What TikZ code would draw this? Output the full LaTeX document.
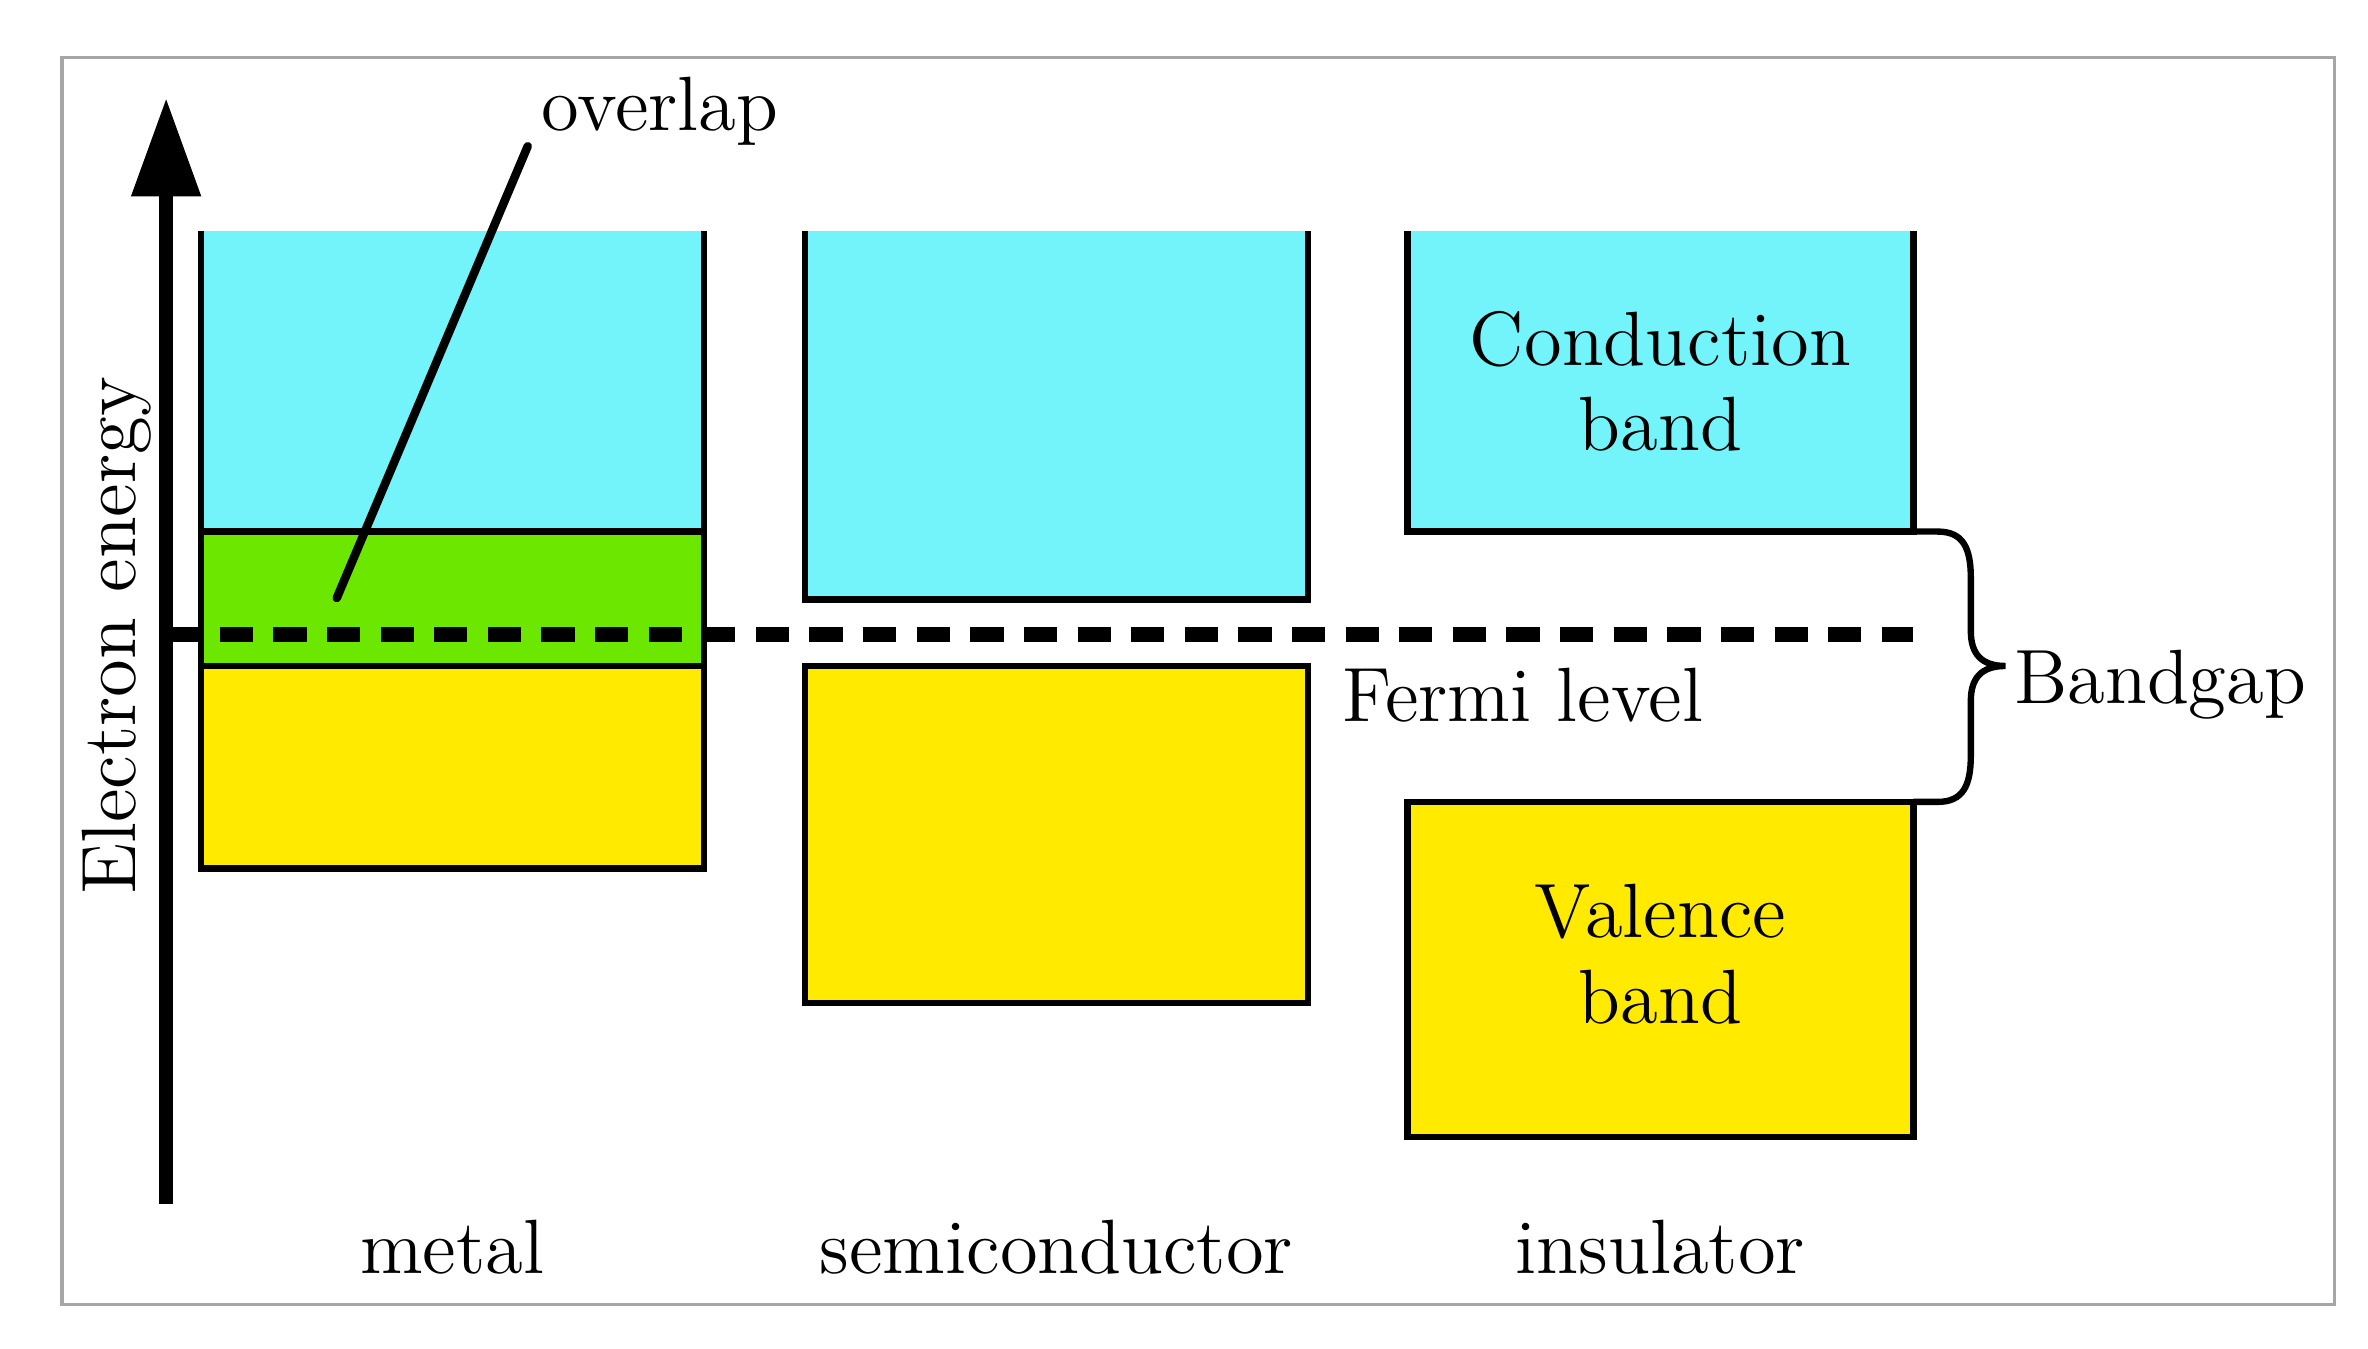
\documentclass[tikz,border=0pt]{standalone}
\usepackage{fontspec}
\usepackage{tikz}
\usetikzlibrary{arrows.meta, positioning, calc}

\definecolor{condcyan}{RGB}{115,244,250}
\definecolor{overgreen}{RGB}{108,232,0}
\definecolor{valyellow}{RGB}{255,234,0}

\begin{document}
\begin{tikzpicture}[
  x=1cm, y=1cm,
  font=\fontsize{14.5}{16.2}\selectfont,
  band/.style  = {inner sep=0pt, outer sep=0pt, minimum width=3.33cm},
  cb/.style    = {band, fill=condcyan},
  ov/.style    = {band, fill=overgreen},
  vb/.style    = {band, fill=valyellow},
  edge/.style  = {line width=1.2pt, black},
  axis/.style  = {-{Triangle[width=4.4mm, length=6.5mm]}, line width=2.5pt},
  fermi/.style = {line width=2.75pt, dash pattern=on 2.2mm off 1.35mm},
  lbl/.style   = {inner sep=0pt},
]

\useasboundingbox (0,0) rectangle (15.68,8.93);
\draw[gray!70, line width=0.6pt] (0.41,8.55) rectangle (15.46,0.29);

%% ── metal ──────────────────────────────────────────────────────────────────
\node[cb, minimum height=1.99cm] (mcb) at (2.995,6.405) {};
\node[ov, minimum height=0.89cm] (mov) at (2.995,4.965) {};
\node[vb, minimum height=1.34cm] (mvb) at (2.995,3.85) {};
\draw[edge] (mcb.north west) -- (mvb.south west) -- (mvb.south east)
  -- (mcb.north east);
\draw[edge] (mcb.south west) -- (mcb.south east);
\draw[edge] (mov.south west) -- (mov.south east);

%% ── semiconductor ──────────────────────────────────────────────────────────
\node[cb, minimum height=2.44cm] (scb) at (6.995,6.18) {};
\node[vb, minimum height=2.23cm] (svb) at (6.995,3.405) {};
\draw[edge] (scb.north west) |- (scb.south east) -- (scb.north east);
\draw[edge] (svb.north west) rectangle (svb.south east);

%% ── insulator ──────────────────────────────────────────────────────────────
\node[cb, minimum width=3.35cm, minimum height=1.99cm] (icb) at (10.995,6.405) {};
\node[vb, minimum width=3.35cm, minimum height=2.22cm] (ivb) at (10.995,2.51) {};
\draw[edge] (icb.north west) |- (icb.south east) -- (icb.north east);
\draw[edge] (ivb.north west) rectangle (ivb.south east);
\node[lbl, align=center] (cbtxt) at (icb.center) {Conduction\\band};
\node[lbl, align=center] (vbtxt) at ($(ivb.center)+(0,0.1)$) {Valence\\band};

%% ── axis and Fermi level ───────────────────────────────────────────────────
\coordinate (abot) at (1.10,0.96);
\coordinate (atop) at (1.10,8.28);
\coordinate (fstart) at (1.10,4.73);
\draw[fermi] (fstart) -- (fstart -| icb.east);
\draw[axis] (abot) -- (atop);

\node[lbl, rotate=90] (energy) at (0.775,4.72) {Electron energy};
\node[lbl, anchor=base west] (fermitxt) at (8.88,4.15) {Fermi level};

%% ── overlap pointer ────────────────────────────────────────────────────────
\node[lbl] (overlap) at (4.37,8.195) {overlap};
\coordinate (ovend) at (2.23,4.97);
\draw[line width=1.6pt, line cap=round]
  ($(overlap.south west)+(-0.085,0)$) -- (ovend);

%% ── bandgap brace ──────────────────────────────────────────────────────────
\draw[line width=1.2pt]
  (icb.south east) -- ++(0.16,0)
  .. controls (13.00,5.41) and (13.05,5.30) .. (13.05,5.10)
  -- (13.05,4.75)
  .. controls (13.05,4.60) and (13.12,4.52) .. (13.28,4.52)
  .. controls (13.12,4.52) and (13.05,4.44) .. (13.05,4.29)
  -- (13.05,3.93)
  .. controls (13.05,3.73) and (13.00,3.62) .. (12.83,3.62)
  -- (ivb.north east);
\node[lbl, anchor=base west] (gap) at (13.33,4.27) {Bandgap};

%% ── material labels ────────────────────────────────────────────────────────
\node[lbl, anchor=base] (metal) at (mcb.center |- 0,0.50) {metal};
\node[lbl, anchor=base] (semi)  at (scb.center |- 0,0.50) {semiconductor};
\node[lbl, anchor=base] (insul) at (icb.center |- 0,0.50) {insulator};

\end{tikzpicture}
\end{document}
